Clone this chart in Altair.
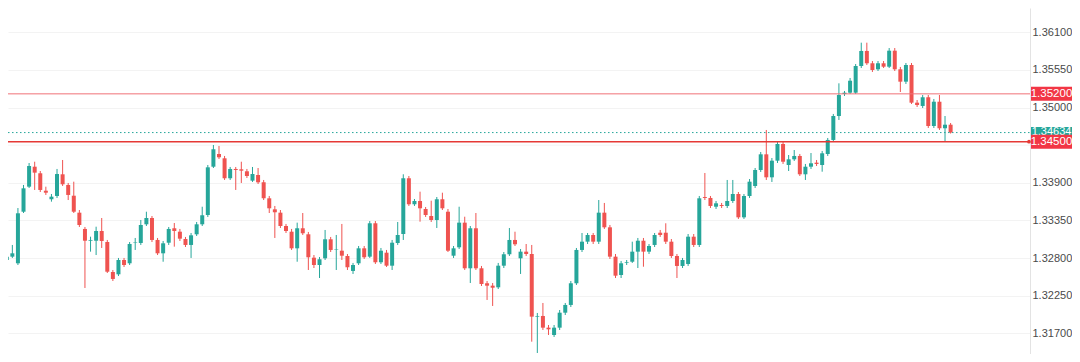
import altair as alt
import pandas as pd

opens = [1.32771,1.32820,1.32723,1.33477,1.33843,1.34135,1.34039,1.33784,1.33659,1.33707,
1.34024,1.33868,1.33711,1.33463,1.33225,1.33053,1.33053,1.33195,1.33034,1.32596,
1.32562,1.32771,1.32723,1.33020,1.33020,1.33293,1.33385,1.33064,1.32869,1.33024,
1.33235,1.33185,1.33078,1.32991,1.33147,1.33293,1.33429,1.34135,1.34321,1.34258,
1.33966,1.34102,1.34097,1.34068,1.33931,1.34014,1.33907,1.33673,1.33512,1.33463,
1.33268,1.33185,1.32942,1.33235,1.33147,1.32805,1.32698,1.32796,1.33074,1.32918,
1.32907,1.32830,1.32611,1.32723,1.32942,1.32820,1.33308,1.32738,1.32878,1.32688,
1.33020,1.33151,1.33966,1.33586,1.33634,1.33517,1.33414,1.33356,1.33659,1.33477,
1.32834,1.32957,1.33317,1.32650,1.33235,1.32650,1.32431,1.32396,1.32372,1.32688,
1.32855,1.33064,1.32796,1.32893,1.32859,1.31943,1.31953,1.31782,1.31675,1.31782,
1.32001,1.32114,1.32431,1.32918,1.33039,1.33137,1.33039,1.33463,1.33249,1.32820,
1.32552,1.32728,1.32746,1.32893,1.33053,1.32893,1.32991,1.33170,1.33170,1.33039,
1.32830,1.32684,1.32713,1.33112,1.32991,1.33692,1.33678,1.33550,1.33575,1.33561,
1.33634,1.33736,1.33395,1.33707,1.33853,1.34087,1.34316,1.33980,1.34223,1.34467,
1.34160,1.34243,1.34292,1.34024,1.34135,1.34194,1.34160,1.34321,1.34526,1.34876,
1.35198,1.35217,1.35217,1.35607,1.35827,1.35647,1.35559,1.35647,1.35597,1.35831,
1.35559,1.35378,1.35622,1.35071,1.35023,1.35150,1.34730,1.35085,1.34697,1.34749]

closes = [1.32820,1.32869,1.33454,1.33819,1.34145,1.34048,1.33795,1.33755,1.33697,1.34028,
1.33878,1.33722,1.33477,1.33283,1.33053,1.33064,1.33195,1.33049,1.32600,1.32494,
1.32771,1.32698,1.33005,1.33027,1.33283,1.33385,1.33064,1.32869,1.33015,1.33225,
1.33195,1.33083,1.32991,1.33132,1.33293,1.33425,1.34126,1.34390,1.34273,1.33966,
1.34102,1.34087,1.34077,1.33999,1.34028,1.33907,1.33673,1.33527,1.33469,1.33268,
1.33195,1.32942,1.33235,1.33162,1.32811,1.32698,1.32782,1.33074,1.32918,1.32925,
1.32834,1.32665,1.32698,1.32942,1.32811,1.33308,1.32738,1.32907,1.32688,1.33024,
1.33137,1.33966,1.33586,1.33634,1.33527,1.33429,1.33356,1.33659,1.33527,1.32907,
1.32942,1.33317,1.32650,1.33235,1.32650,1.32420,1.32396,1.32366,1.32688,1.32855,
1.33064,1.33001,1.32893,1.32859,1.31943,1.31953,1.31782,1.31758,1.31782,1.32001,
1.32114,1.32431,1.32918,1.33039,1.33137,1.33039,1.33463,1.33249,1.32820,1.32542,
1.32723,1.32738,1.32893,1.33053,1.32893,1.32976,1.33137,1.33137,1.33039,1.32830,
1.32684,1.32771,1.33112,1.32991,1.33673,1.33678,1.33561,1.33600,1.33561,1.33634,
1.33736,1.33395,1.33707,1.33916,1.34087,1.34316,1.33980,1.34223,1.34467,1.34208,
1.34243,1.34292,1.34024,1.34135,1.34185,1.34175,1.34331,1.34526,1.34876,1.35183,
1.35217,1.35392,1.35607,1.35827,1.35647,1.35549,1.35647,1.35597,1.35831,1.35559,
1.35378,1.35622,1.35071,1.35037,1.35150,1.34730,1.35085,1.34697,1.34749,1.34634]

highs = [1.32859,1.32991,1.33531,1.33868,1.34189,1.34208,1.34072,1.33843,1.33736,1.34102,
1.34233,1.33897,1.33916,1.33502,1.33254,1.33112,1.33258,1.33385,1.33064,1.32625,
1.32801,1.32801,1.33034,1.33093,1.33356,1.33477,1.33414,1.33093,1.33049,1.33254,
1.33312,1.33225,1.33108,1.33166,1.33327,1.33550,1.34160,1.34452,1.34438,1.34292,
1.34131,1.34131,1.34208,1.34102,1.34131,1.34116,1.33941,1.33707,1.33561,1.33502,
1.33298,1.33225,1.33317,1.33458,1.33181,1.32844,1.32815,1.33210,1.33108,1.33137,
1.33298,1.32859,1.32728,1.32976,1.32976,1.33341,1.33341,1.32947,1.32918,1.33064,
1.33327,1.34024,1.33999,1.33663,1.33770,1.33546,1.33638,1.33692,1.33755,1.33517,
1.32976,1.33550,1.33404,1.33268,1.33458,1.32684,1.32464,1.32435,1.32728,1.32888,
1.33239,1.33185,1.32932,1.33005,1.32991,1.31997,1.32143,1.31821,1.31821,1.32040,
1.32143,1.32464,1.32947,1.33166,1.33166,1.33166,1.33648,1.33605,1.33283,1.32859,
1.32757,1.32771,1.33039,1.33093,1.33093,1.33005,1.33166,1.33210,1.33308,1.33078,
1.32859,1.32801,1.33151,1.33151,1.33707,1.34043,1.33707,1.33634,1.33605,1.33941,
1.33941,1.33765,1.33736,1.33955,1.34116,1.34350,1.34672,1.34262,1.34496,1.34496,
1.34306,1.34379,1.34321,1.34175,1.34335,1.34233,1.34365,1.34555,1.34906,1.35354,
1.35242,1.35432,1.35636,1.35948,1.35948,1.35680,1.35680,1.35680,1.35870,1.35870,
1.35593,1.35651,1.35651,1.35110,1.35183,1.35183,1.35125,1.35183,1.34876,1.34774]

lows = [1.32742,1.32801,1.32698,1.33458,1.33824,1.33795,1.33765,1.33722,1.33624,1.33678,
1.33853,1.33648,1.33458,1.33254,1.32362,1.32893,1.32844,1.32947,1.32581,1.32464,
1.32537,1.32669,1.32698,1.32918,1.32991,1.33268,1.33034,1.32844,1.32746,1.32991,
1.32966,1.33049,1.32961,1.32801,1.33122,1.33268,1.33400,1.34116,1.34248,1.33941,
1.33941,1.33795,1.33897,1.33970,1.33912,1.33882,1.33648,1.33458,1.33093,1.33239,
1.33166,1.32918,1.32746,1.33137,1.32625,1.32654,1.32508,1.32771,1.32888,1.32625,
1.32771,1.32625,1.32567,1.32698,1.32786,1.32801,1.32713,1.32713,1.32669,1.32625,
1.32991,1.33064,1.33561,1.33561,1.33331,1.33400,1.33327,1.33239,1.33502,1.32888,
1.32801,1.32932,1.32625,1.32435,1.32625,1.32391,1.32187,1.32099,1.32347,1.32654,
1.32830,1.32976,1.32567,1.32830,1.31577,1.31412,1.31748,1.31675,1.31646,1.31748,
1.31967,1.32084,1.32406,1.32888,1.33005,1.33005,1.33005,1.33225,1.32786,1.32508,
1.32508,1.32698,1.32728,1.32654,1.32673,1.32859,1.32961,1.33108,1.33005,1.32801,
1.32508,1.32654,1.32684,1.32961,1.32961,1.33648,1.33531,1.33517,1.33531,1.33531,
1.33605,1.33371,1.33371,1.33678,1.33824,1.34058,1.33941,1.33912,1.34189,1.34175,
1.34072,1.34219,1.33999,1.33941,1.34102,1.34145,1.34062,1.34292,1.34496,1.34818,
1.35169,1.35198,1.35198,1.35578,1.35622,1.35520,1.35534,1.35578,1.35578,1.35534,
1.35227,1.35344,1.35052,1.35008,1.34993,1.34701,1.34701,1.34672,1.34501,1.34620]

tick_values = [1.317, 1.3225, 1.328, 1.3335, 1.339, 1.35, 1.3555, 1.361]
hidden_grid = [1.3445]
level_prices = [1.352, 1.345]
level_labels = ["1.35200", "1.34500"]
last_price = [1.34634]
last_label = ["1.34634"]

UP = "#26a69a"
DOWN = "#ef5350"

df = pd.DataFrame({
    "i": list(range(1, len(opens) + 1)),
    "open": opens, "close": closes, "high": highs, "low": lows,
})
df["dir"] = ["up" if c >= o else "down" for o, c in zip(opens, closes)]

W = 1022
H = 346
RP = 42
xscale = alt.Scale(domain=[2.117, 183.32], nice=False, zero=False)
yscale = alt.Scale(domain=[1.31397, 1.36455], nice=False, zero=False)
cscale = alt.Scale(domain=["up", "down"], range=[UP, DOWN])

yaxis = alt.Axis(orient="right", values=tick_values, format=".5f",
                 labelFont="Liberation Sans", labelFontSize=11, labelColor="#4a4a4a",
                 ticks=False, domain=True, domainColor="#e3e3e3", grid=True,
                 gridColor="#f3f3f3", labelPadding=2, title=None)

base = alt.Chart(df)

grid_extra = alt.Chart(pd.DataFrame({"p": hidden_grid})).mark_rule(
    color="#f3f3f3", strokeWidth=1
).encode(y=alt.Y("p:Q", scale=yscale), x=alt.value(0), x2=alt.value(W))

wicks = base.mark_rule(strokeWidth=1, clip=True).encode(
    x=alt.X("i:Q", scale=xscale, axis=None),
    y=alt.Y("low:Q", scale=yscale, axis=yaxis),
    y2="high:Q",
    color=alt.Color("dir:N", scale=cscale, legend=None),
)

bodies = base.mark_bar(size=4, clip=True).encode(
    x=alt.X("i:Q", scale=xscale, axis=None),
    y=alt.Y("open:Q", scale=yscale),
    y2="close:Q",
    color=alt.Color("dir:N", scale=cscale, legend=None),
)

lv = pd.DataFrame({"p": level_prices, "label": level_labels,
                   "w": [1.0, 1.3], "c": ["#f07178", "#e53935"]})
lp = pd.DataFrame({"p": last_price, "label": last_label})

level_lines = alt.Chart(lv).mark_rule().encode(
    y=alt.Y("p:Q", scale=yscale),
    x=alt.value(0), x2=alt.value(W),
    color=alt.Color("c:N", scale=None, legend=None),
    strokeWidth=alt.StrokeWidth("w:Q", scale=None, legend=None),
)

last_line = alt.Chart(lp).mark_rule(color=UP, strokeWidth=1, strokeDash=[1.5, 2.5]).encode(
    y=alt.Y("p:Q", scale=yscale),
    x=alt.value(0), x2=alt.value(W),
)

last_box = alt.Chart(lp).mark_rule(color=UP, strokeWidth=11).encode(
    y=alt.Y("p:Q", scale=yscale),
    x=alt.value(W + 1), x2=alt.value(W + RP),
)
last_text = alt.Chart(lp).mark_text(color="white", font="Liberation Sans", fontSize=11,
                                     align="center", baseline="middle", dy=-1).encode(
    y=alt.Y("p:Q", scale=yscale), x=alt.value(W + 1 + (RP - 1) / 2), text="label:N",
)

level_box = alt.Chart(lv).mark_rule(color="#f23645", strokeWidth=14).encode(
    y=alt.Y("p:Q", scale=yscale),
    x=alt.value(W + 1), x2=alt.value(W + RP),
)
level_text = alt.Chart(lv).mark_text(color="white", font="Liberation Sans", fontSize=11.5,
                                      align="center", baseline="middle").encode(
    y=alt.Y("p:Q", scale=yscale), x=alt.value(W + 1 + (RP - 1) / 2), text="label:N",
)
marker = alt.Chart(lv.iloc[[1]]).mark_point(shape="circle", filled=True, size=14,
                                            color="#e53935", opacity=1).encode(
    y=alt.Y("p:Q", scale=yscale), x=alt.value(W - 1),
)

chart = alt.layer(
    grid_extra, wicks, bodies, level_lines, last_line, last_box, last_text,
    level_box, level_text, marker
).properties(
    width=W, height=H,
    autosize=alt.AutoSizeParams(type="none"),
    padding={"left": 0, "top": 0, "right": RP, "bottom": 0},
    background="white",
).configure_view(stroke=None)

chart.save("out.html", embed_options={"renderer": "svg", "actions": False})
